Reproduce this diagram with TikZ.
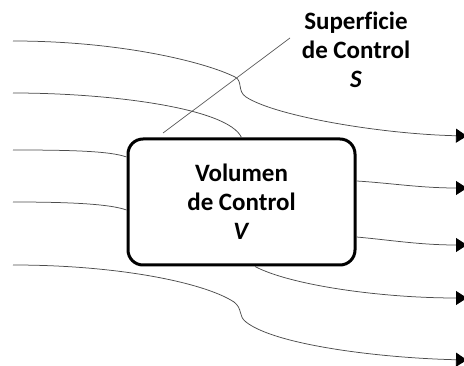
\documentclass[tikz,border=0pt]{standalone}
\usepackage{fontspec}
\setmainfont{Carlito}[Ligatures=NoCommon]
\usetikzlibrary{arrows.meta,calc}
\begin{document}
\begin{tikzpicture}[x=1pt,y=-1pt,
  stream/.style={draw=black!70,line width=0.75pt},
  outflow/.style={stream,-{Triangle[length=11pt,width=14pt,fill=black,color=black]}},
  cvbox/.style={draw=black,line width=3pt,rounded corners=15pt,
    minimum width=227pt,minimum height=126pt,inner sep=0pt,
    align=center,font=\bfseries\fontsize{25}{29}\selectfont},
  label/.style={align=center,font=\bfseries\fontsize{25}{29}\selectfont},
  leader/.style={draw=black!65,line width=0.7pt}]
\useasboundingbox (0,0) rectangle (464,366);

% control volume
\node[cvbox] (box) at (241.5,202) {Volumen\\de Control\\\textit{V}};
\node[label] (surf) at (356,50) {Superficie\\de Control\\\textit{S}};

% free ends of the streamlines
\coordinate (in1) at (13,41);
\coordinate (in2) at (13,93);
\coordinate (in3) at (13,150);
\coordinate (in4) at (13,202);
\coordinate (in5) at (13,265);
\coordinate (out1) at (467,136);
\coordinate (outA) at (467,188);
\coordinate (outB) at (467,245);
\coordinate (outC) at (467,298);
\coordinate (out5) at (467,360);
\coordinate (lead) at (290,38);

% points on the boundary of the box
\coordinate (b2) at (box.north);
\coordinate (b3) at ($(box.west)+(0,-45)$);
\coordinate (b4) at ($(box.west)+(0,8)$);
\coordinate (bA) at ($(box.east)+(0,-21)$);
\coordinate (bB) at ($(box.east)+(0,35)$);
\coordinate (bC) at ($(box.south)+(13.5,0)$);

% leader line to the control surface label
\draw[leader] (163,133) -- (lead);

% streamlines passing around the box
\draw[outflow] (in1) .. controls (120,41) and (205,62) .. (235,77)
  .. controls (243,81) and (237,91) .. (246,97)
  .. controls (275,116) and (380,134) .. (out1);
\draw[outflow] (in5) .. controls (120,265) and (205,283) .. (234,302)
  .. controls (243,309) and (238,316) .. (246,322)
  .. controls (275,345) and (380,358) .. (out5);

% streamlines entering the box
\draw[stream] (in2) .. controls (110,93) and (228,108) .. (b2);
\draw[stream] (in3) .. controls (70,150) and (110,151) .. (b3);
\draw[stream] (in4) .. controls (70,202) and (110,204) .. (b4);

% streamlines leaving the box
\draw[outflow] (bA) .. controls (390,183) and (420,188) .. (outA);
\draw[outflow] (bB) .. controls (390,240) and (420,245) .. (outB);
\draw[outflow] (bC) .. controls (290,285) and (380,298) .. (outC);
\end{tikzpicture}
\end{document}
